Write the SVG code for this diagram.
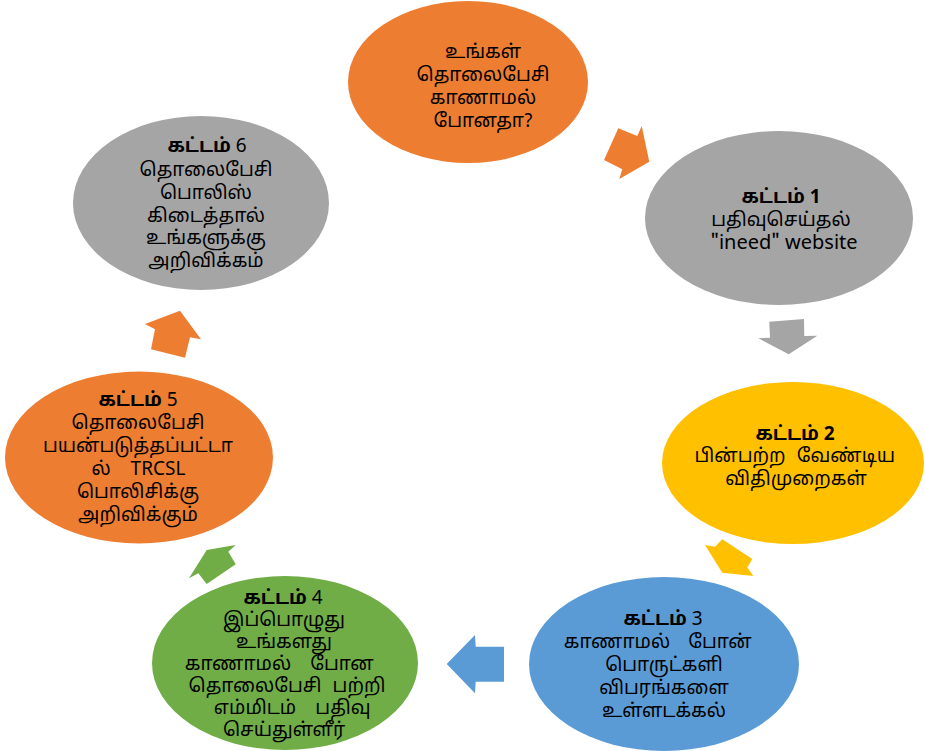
<svg xmlns="http://www.w3.org/2000/svg" width="925" height="751" viewBox="0 0 925 751">
<style>
text{font-family:"Noto Sans Tamil","Latha","Noto Sans","DejaVu Sans",sans-serif;font-size:19px;fill:#000;text-anchor:middle}
.b{font-weight:bold}
.or{fill:#ED7D31}.gr{fill:#A5A5A5}.ye{fill:#FFC000}.bl{fill:#5B9BD5}.gn{fill:#70AD47}
</style>
<rect width="925" height="751" fill="#fff"/>
<g id="connectors">
<polygon class="or" points="618.3,128.3 637.3,136 641.7,126 649.3,161.7 619.3,179 622.3,169.3 604,160"/>
<polygon class="gr" points="769.3,321.7 804,319 804.3,336 817.3,335.7 788.7,354.3 758.3,338.3 770,337.7"/>
<polygon class="ye" points="722.3,539.3 752.3,559 747.3,567.3 753.3,576 722.3,572.7 705,545 715,546.7"/>
<polygon class="bl" points="446.7,664 475,635 475.7,646.7 504,646.7 504,681.7 475.7,681.7 475,693.3"/>
<polygon class="gn" points="206.7,550 235.7,545 228.3,551.7 235.7,564.3 206.7,584 198.3,573.3 189,578.3"/>
<polygon class="or" points="180,310.7 201,339.3 190,337.3 185,357.7 151,349.3 155,329.3 145,324"/>
</g>
<g id="start">
<ellipse class="or" cx="468" cy="82" rx="120" ry="81"/>
<text x="483" y="58">உங்கள்</text>
<text x="483" y="81">தொலைபேசி</text>
<text x="483" y="104">காணாமல்</text>
<text x="483" y="127">போனதா?</text>
</g>
<g id="step1">
<ellipse class="gr" cx="779" cy="218" rx="134" ry="87"/>
<text x="781" y="203" class="b">கட்டம் 1</text>
<text x="781" y="226">பதிவுசெய்தல்</text>
<text x="784" y="249" style="font-size:20px">"ineed" website</text>
</g>
<g id="step2">
<ellipse class="ye" cx="793" cy="463" rx="131" ry="81"/>
<text x="795" y="440" class="b">கட்டம் 2</text>
<text y="462"><tspan x="740">பின்பற்ற</tspan><tspan x="846">வேண்டிய</tspan></text>
<text x="796" y="485">விதிமுறைகள்</text>
</g>
<g id="step3">
<ellipse class="bl" cx="664" cy="664" rx="135" ry="87"/>
<text x="663" y="625"><tspan class="b">கட்டம்</tspan> 3</text>
<text y="648"><tspan x="617">காணாமல்</tspan><tspan x="720">போன்</tspan></text>
<text x="664" y="671">பொருட்களி</text>
<text x="664" y="694">விபரங்களை</text>
<text x="664" y="717">உள்ளடக்கல்</text>
</g>
<g id="step4">
<ellipse class="gn" cx="285" cy="663" rx="133" ry="87"/>
<text x="283" y="604"><tspan class="b">கட்டம்</tspan> 4</text>
<text x="284" y="626">இப்பொழுது</text>
<text x="284" y="648">உங்களது</text>
<text y="670"><tspan x="238">காணாமல்</tspan><tspan x="342">போன</tspan></text>
<text y="692"><tspan x="255">தொலைபேசி</tspan><tspan x="359">பற்றி</tspan></text>
<text y="714"><tspan x="255">எம்மிடம்</tspan><tspan x="343">பதிவு</tspan></text>
<text x="284" y="736">செய்துள்ளீர்</text>
</g>
<g id="step5">
<ellipse class="or" cx="139" cy="457.5" rx="134" ry="86"/>
<text x="138" y="406"><tspan class="b">கட்டம்</tspan> 5</text>
<text x="138" y="429">தொலைபேசி</text>
<text x="138" y="452">பயன்படுத்தப்பட்டா</text>
<text y="475"><tspan x="101">ல்</tspan><tspan x="158">TRCSL</tspan></text>
<text x="138" y="498">பொலிசிக்கு</text>
<text x="138" y="521">அறிவிக்கும்</text>
</g>
<g id="step6">
<ellipse class="gr" cx="201" cy="203" rx="128" ry="87"/>
<text x="207" y="152"><tspan class="b">கட்டம்</tspan> 6</text>
<text x="206" y="176">தொலைபேசி</text>
<text x="206" y="199">பொலிஸ்</text>
<text x="206" y="222">கிடைத்தால்</text>
<text x="206" y="244">உங்களுக்கு</text>
<text x="206" y="267">அறிவிக்கம்</text>
</g>
</svg>
